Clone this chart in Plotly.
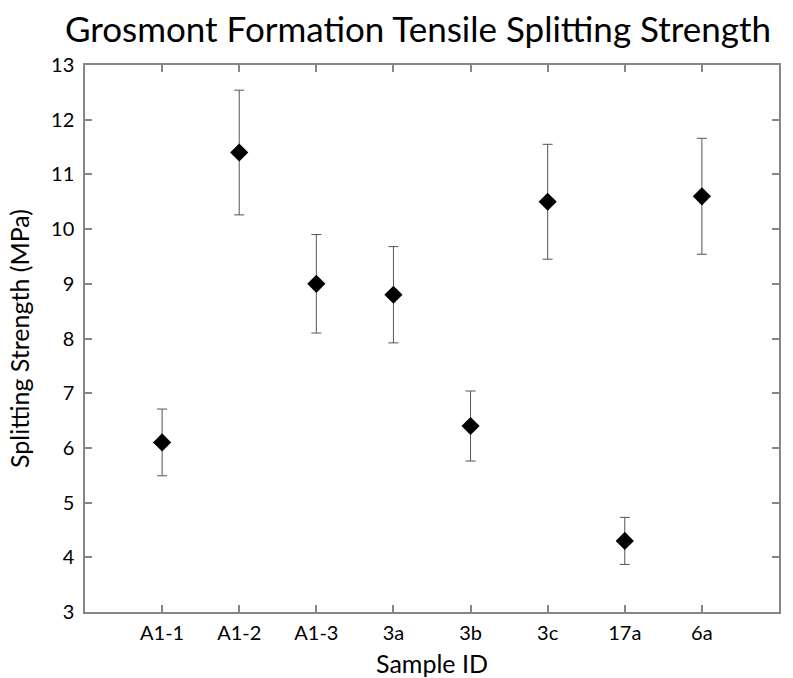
import plotly.graph_objects as go

# Tensile splitting strength per sample (MPa) with error half-widths
samples = ["A1-1", "A1-2", "A1-3", "3a", "3b", "3c", "17a", "6a"]
strength = [6.1, 11.4, 9.0, 8.8, 6.4, 10.5, 4.3, 10.6]
error = [0.61, 1.14, 0.9, 0.88, 0.64, 1.05, 0.43, 1.06]

y_ticks = list(range(3, 14))

font_family = "Lato"
axis_color = "#868686"

fig = go.Figure(
    go.Scatter(
        x=samples,
        y=strength,
        mode="markers",
        marker=dict(symbol="diamond", size=14, color="black"),
        error_y=dict(type="data", array=error, visible=True,
                     color="#555555", thickness=1, width=5),
        showlegend=False,
    )
)

fig.update_layout(
    width=793,
    height=678,
    margin=dict(l=85, r=14, t=65, b=66),
    paper_bgcolor="white",
    plot_bgcolor="white",
    font=dict(family=font_family, color="black"),
    title=dict(
        text="Grosmont Formation Tensile Splitting Strength",
        font=dict(size=35, family=font_family, color="black"),
        x=418 / 793, xanchor="center", xref="container",
        y=1 - 30 / 678, yanchor="middle", yref="container",
    ),
)

fig.update_xaxes(
    type="category",
    range=[-1, len(samples)],
    automargin=False,
    showgrid=False,
    showline=True, linecolor=axis_color, linewidth=1.5,
    mirror="ticks",
    ticks="inside", ticklen=7, tickcolor=axis_color, tickwidth=1.5,
    tickfont=dict(size=20, family=font_family, color="black"),
    ticklabelstandoff=2,
    title=dict(text="Sample ID", font=dict(size=25, family=font_family, color="black"), standoff=16),
)

fig.update_yaxes(
    range=[3, 13],
    tickvals=y_ticks,
    automargin=False,
    showgrid=False, zeroline=False,
    showline=True, linecolor=axis_color, linewidth=1.5,
    mirror="ticks",
    ticks="inside", ticklen=7, tickcolor=axis_color, tickwidth=1.5,
    tickfont=dict(size=20, family=font_family, color="black"),
    ticklabelstandoff=5,
    title=dict(text="Splitting Strength (MPa)", font=dict(size=25, family=font_family, color="black"), standoff=14),
)

fig.write_html("out.html")
